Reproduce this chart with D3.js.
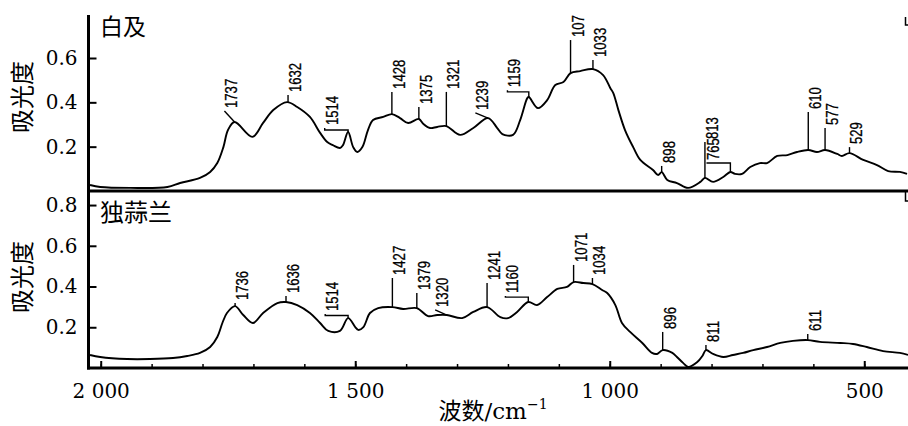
<!DOCTYPE html>
<html>
<head>
<meta charset="utf-8">
<script src="https://cdn.jsdelivr.net/npm/d3@7"></script>
<style>
  body { margin: 0; background: #fff; }
  svg { display: block; }
</style>
</head>
<body>
<svg id="chart" width="908" height="426"></svg>
<script>
// wavenumber (cm-1) and absorbance
const topWn = [2021, 2001, 1942, 1869, 1844, 1805, 1785, 1771, 1759, 1750, 1737, 1702, 1681, 1661, 1634, 1614, 1589, 1569, 1555, 1544, 1530, 1524, 1514, 1504, 1496, 1486, 1475, 1465, 1445, 1428, 1412, 1396, 1375, 1366, 1353, 1339, 1321, 1294, 1268, 1239, 1221, 1211, 1190, 1176, 1162, 1159, 1141, 1123, 1107, 1091, 1077, 1058, 1033, 1013, 999, 993, 983, 970, 954, 940, 915, 905, 898, 887, 868, 846, 822, 813, 797, 777, 763, 754, 740, 724, 705, 691, 671, 651, 632, 610, 593, 577, 553, 544, 529, 502, 475, 453, 430, 416];
const topAbs = [0.027, 0.018, 0.014, 0.018, 0.036, 0.059, 0.086, 0.126, 0.198, 0.275, 0.311, 0.244, 0.307, 0.365, 0.401, 0.379, 0.334, 0.262, 0.221, 0.207, 0.194, 0.207, 0.266, 0.198, 0.176, 0.198, 0.275, 0.320, 0.334, 0.347, 0.329, 0.307, 0.325, 0.302, 0.284, 0.289, 0.293, 0.253, 0.284, 0.329, 0.284, 0.257, 0.253, 0.320, 0.419, 0.424, 0.374, 0.410, 0.478, 0.492, 0.532, 0.541, 0.550, 0.523, 0.465, 0.442, 0.365, 0.275, 0.198, 0.140, 0.095, 0.072, 0.085, 0.050, 0.036, 0.014, 0.041, 0.059, 0.041, 0.063, 0.086, 0.077, 0.077, 0.108, 0.126, 0.126, 0.158, 0.162, 0.176, 0.185, 0.176, 0.185, 0.167, 0.158, 0.171, 0.140, 0.117, 0.090, 0.086, 0.077];

const botWn = [2021, 2001, 1948, 1903, 1858, 1830, 1805, 1785, 1771, 1761, 1752, 1736, 1720, 1701, 1681, 1653, 1636, 1614, 1589, 1569, 1553, 1530, 1514, 1500, 1494, 1484, 1471, 1455, 1427, 1406, 1379, 1357, 1339, 1320, 1290, 1268, 1241, 1215, 1200, 1182, 1160, 1143, 1123, 1103, 1084, 1071, 1052, 1034, 1015, 1005, 989, 976, 960, 936, 917, 907, 896, 877, 868, 856, 846, 828, 818, 811, 797, 777, 758, 738, 718, 691, 665, 640, 611, 587, 547, 522, 495, 463, 430, 414];
const botAbs = [0.064, 0.054, 0.044, 0.044, 0.049, 0.059, 0.074, 0.103, 0.152, 0.221, 0.270, 0.304, 0.260, 0.221, 0.270, 0.319, 0.324, 0.309, 0.270, 0.221, 0.182, 0.182, 0.245, 0.201, 0.187, 0.201, 0.270, 0.294, 0.299, 0.290, 0.294, 0.255, 0.260, 0.260, 0.245, 0.275, 0.299, 0.250, 0.245, 0.275, 0.324, 0.309, 0.348, 0.388, 0.398, 0.422, 0.417, 0.412, 0.383, 0.368, 0.309, 0.221, 0.177, 0.123, 0.074, 0.069, 0.088, 0.074, 0.054, 0.025, 0.005, 0.029, 0.059, 0.088, 0.069, 0.054, 0.064, 0.074, 0.088, 0.103, 0.123, 0.133, 0.137, 0.128, 0.123, 0.118, 0.103, 0.083, 0.074, 0.064];

// peak labels: [text, peak wn, leader top wn, leader top absorbance, elbow absorbance]
const topMarks = [
  ["1737", 1737, 1757, 0.361, null],
  ["1632", 1632, 1632, 0.433, null],
  ["1514", 1514, 1560, 0.284, 0.275],
  ["1428", 1428, 1428, 0.447, null],
  ["1375", 1375, 1375, 0.379, null],
  ["1321", 1321, 1321, 0.447, null],
  ["1239", 1239, 1264, 0.352, null],
  ["1159", 1159, 1201, 0.455, 0.447],
  ["107", 1077, 1077, 0.681, null],
  ["1033", 1033, 1033, 0.591, null],
  ["898", 898, 898, 0.113, null],
  ["813", 813, 813, 0.221, null],
  ["765", 763, 810, 0.126, 0.126],
  ["610", 610, 610, 0.356, null],
  ["577", 577, 577, 0.284, null],
  ["529", 529, 529, 0.198, null]
];
const botMarks = [
  ["1736", 1736, 1736, 0.319, null],
  ["1636", 1636, 1636, 0.353, null],
  ["1514", 1514, 1559, 0.265, 0.258],
  ["1427", 1427, 1427, 0.442, null],
  ["1379", 1379, 1379, 0.368, null],
  ["1320", 1320, 1343, 0.285, null],
  ["1241", 1241, 1241, 0.417, null],
  ["1160", 1160, 1205, 0.353, 0.348],
  ["1071", 1071, 1071, 0.506, null],
  ["1034", 1034, 1034, 0.442, null],
  ["896", 896, 896, 0.177, null],
  ["811", 811, 811, 0.113, null],
  ["611", 611, 611, 0.167, null]
];

const xTicks = [2000, 1500, 1000, 500];
const xTickLabels = ["2 000", "1 500", "1 000", "500"];
const xMinor = d3.range(2000, 400, -100);
const topYTicks = [0.2, 0.4, 0.6];
const botYTicks = [0.2, 0.4, 0.6, 0.8];
const titles = ["白及", "独蒜兰"];

const svg = d3.select("#chart");
const serif = "'DejaVu Serif', serif";
const cjk = "'Noto Sans CJK SC', sans-serif";

const left = 88.5, right = 906;
const x = d3.scaleLinear().domain([2024, 418]).range([left, right]);
const yTop = d3.scaleLinear().domain([0, 0.794]).range([191, 15]);
const yBot = d3.scaleLinear().domain([0, 0.869]).range([368, 191]);

// y axes
function yAxis(scale, ticks) {
  const g = svg.append("g")
    .attr("transform", "translate(" + left + ",0)")
    .call(d3.axisLeft(scale).tickValues(ticks).tickFormat(d3.format(".1f"))
      .tickSizeInner(-8).tickSizeOuter(0).tickPadding(11));
  g.select(".domain").remove();
  g.selectAll(".tick line").attr("stroke-width", 2);
  g.selectAll("text").attr("font-family", serif).attr("font-size", 20).attr("fill", "#000");
}
yAxis(yTop, topYTicks);
yAxis(yBot, botYTicks);

// x axis (bottom only)
const xg = svg.append("g")
  .attr("transform", "translate(0,368)")
  .call(d3.axisBottom(x).tickValues(xMinor).tickFormat("").tickSizeInner(-4).tickSizeOuter(0));
xg.select(".domain").remove();
xg.selectAll(".tick line").attr("stroke-width", 1.5);

const xg2 = svg.append("g")
  .attr("transform", "translate(0,368)")
  .call(d3.axisBottom(x).tickValues(xTicks).tickFormat((d, i) => xTickLabels[i])
    .tickSizeInner(-7).tickSizeOuter(0));
xg2.select(".domain").remove();
xg2.selectAll(".tick line").attr("stroke-width", 2);
xg2.selectAll("text").attr("dy", null).attr("y", 30)
  .attr("font-family", serif).attr("font-size", 20).attr("fill", "#000");

// frame lines
const frame = svg.append("g").attr("stroke", "#000").attr("stroke-width", 3).attr("fill", "none");
frame.append("line").attr("x1", left).attr("x2", left).attr("y1", 15).attr("y2", 369.5);
frame.append("line").attr("x1", left - 1.5).attr("x2", 908).attr("y1", yTop(0)).attr("y2", yTop(0));
frame.append("line").attr("x1", left - 1.5).attr("x2", 908).attr("y1", yBot(0)).attr("y2", yBot(0));
const edge = svg.append("g").attr("stroke", "#000").attr("stroke-width", 1.5).attr("fill", "none");
edge.append("path").attr("d", "M905.5,17V25H908");
edge.append("path").attr("d", "M905.5,191V201H908");

// spectra
function spectrum(wn, abs, y, marks) {
  const pts = wn.map((w, i) => [w, abs[i]]);
  const line = d3.line().x(d => x(d[0])).y(d => y(d[1])).curve(d3.curveCatmullRom.alpha(0.5));
  svg.append("path").datum(pts)
    .attr("d", line)
    .attr("fill", "none").attr("stroke", "#000").attr("stroke-width", 1.9)
    .attr("stroke-linejoin", "round");

  const at = d3.scaleLinear().domain(wn).range(abs);
  const g = svg.append("g");
  marks.forEach(m => {
    const [label, peak, lw, la, elbow] = m;
    const px = x(peak), py = y(at(peak));
    let d = "M" + px + "," + py;
    if (elbow != null) d += "V" + y(elbow) + "H" + x(lw) + "V" + y(la);
    else d += "L" + x(lw) + "," + y(la);
    g.append("path").attr("d", d).attr("fill", "none").attr("stroke", "#000").attr("stroke-width", 1.4);
    g.append("text")
      .attr("transform", "translate(" + (x(lw) + 13) + "," + (y(la) - 3) + ") rotate(-90) scale(0.82,1)")
      .attr("font-family", "'Liberation Sans', Arial, sans-serif")
      .attr("font-size", 16)
      .attr("stroke", "#000").attr("stroke-width", 0.3)
      .text(label);
  });
}
spectrum(topWn, topAbs, yTop, topMarks);
spectrum(botWn, botAbs, yBot, botMarks);

// titles
svg.append("text").attr("x", 100).attr("y", 35).attr("font-family", cjk).attr("font-size", 23).text(titles[0]);
svg.append("text").attr("x", 100).attr("y", 221).attr("font-family", cjk).attr("font-size", 24).text(titles[1]);

[97, 277].forEach(cy => {
  svg.append("text")
    .attr("transform", "translate(31," + cy + ") rotate(-90)")
    .attr("text-anchor", "middle")
    .attr("font-family", cjk).attr("font-size", 24)
    .text("吸光度");
});

const xl = svg.append("text")
  .attr("x", 493).attr("y", 419).attr("text-anchor", "middle")
  .attr("font-size", 23);
xl.append("tspan").attr("font-family", cjk).text("波数");
xl.append("tspan").attr("font-family", serif).text("/cm");
xl.append("tspan").attr("font-family", serif).attr("font-size", 14).attr("dy", -10).text("−1");
</script>
</body>
</html>
